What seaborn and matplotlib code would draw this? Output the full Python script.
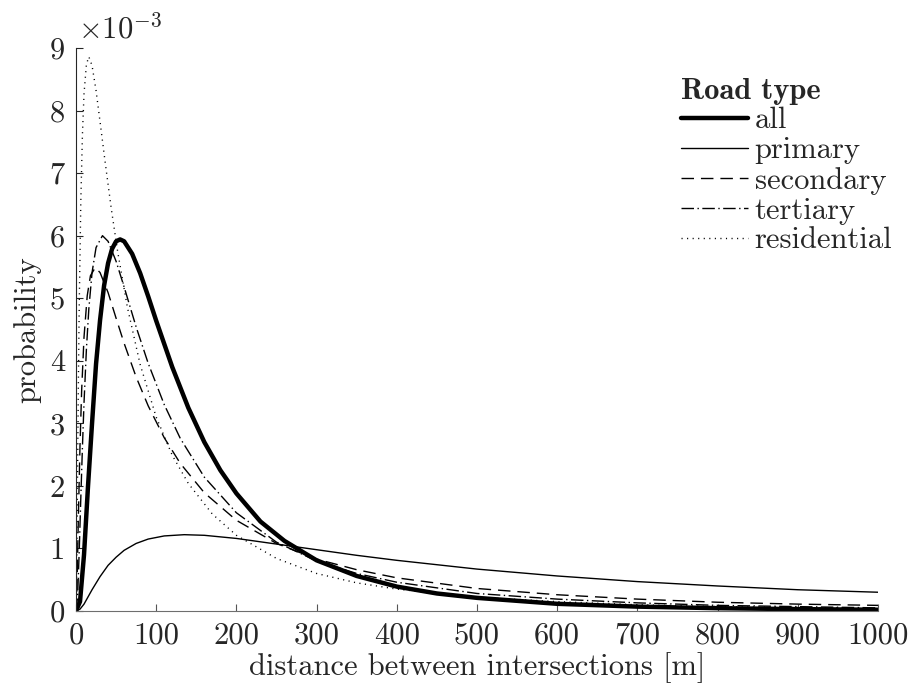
import matplotlib
matplotlib.use("Agg")
import matplotlib.pyplot as plt
import matplotlib.ticker as mticker
import seaborn as sns
import pandas as pd

# Distance distributions per road type (probability, in units of 1e-3)
all_x = [0, 5, 10, 15, 20, 25, 30, 35, 40, 45, 50, 55, 60, 70, 80, 90, 100,
         120, 140, 160, 180, 200, 230, 260, 300, 350, 400, 450, 500, 600, 700,
         800, 900, 1000]
all_y = [0, 0.15, 0.9, 2.0, 3.0, 3.95, 4.65, 5.2, 5.56, 5.79, 5.91, 5.94, 5.91,
         5.71, 5.40, 5.03, 4.64, 3.90, 3.25, 2.70, 2.25, 1.88, 1.43, 1.12, 0.81,
         0.56, 0.39, 0.28, 0.21, 0.115, 0.07, 0.045, 0.03, 0.02]

primary_x = [0, 5, 10, 20, 30, 40, 50, 60, 75, 90, 110, 135, 160, 200, 250,
             300, 350, 400, 500, 600, 700, 800, 900, 1000]
primary_y = [0, 0.03, 0.11, 0.34, 0.55, 0.73, 0.86, 0.97, 1.08, 1.15, 1.20,
             1.22, 1.21, 1.16, 1.07, 0.98, 0.89, 0.81, 0.67, 0.56, 0.47, 0.40,
             0.34, 0.30]

secondary_x = [0, 1, 2, 3, 5, 7, 10, 14, 18, 24, 30, 40, 50, 60, 75, 90, 110,
               130, 160, 200, 250, 300, 350, 400, 500, 600, 700, 800, 900, 1000]
secondary_y = [0, 0.28, 0.88, 1.53, 2.65, 3.51, 4.38, 5.04, 5.36, 5.49, 5.41,
               5.09, 4.68, 4.28, 3.74, 3.28, 2.77, 2.36, 1.89, 1.45, 1.08, 0.83,
               0.66, 0.53, 0.36, 0.26, 0.19, 0.14, 0.11, 0.09]

tertiary_x = [0, 2, 4, 6, 8, 10, 13, 16, 20, 25, 33, 40, 50, 60, 75, 90, 110,
              130, 160, 200, 250, 300, 350, 400, 500, 600, 700, 800, 900, 1000]
tertiary_y = [0, 0.23, 0.95, 1.81, 2.61, 3.33, 4.19, 4.83, 5.41, 5.81, 6.00,
              5.91, 5.59, 5.18, 4.54, 3.96, 3.30, 2.76, 2.14, 1.57, 1.10, 0.80,
              0.60, 0.46, 0.28, 0.19, 0.13, 0.09, 0.07, 0.05]

residential_x = [0, 1, 2, 3, 4, 6, 8, 10, 13, 16, 20, 25, 30, 36, 44, 52, 64,
                 80, 100, 120, 140, 170, 200, 250, 300, 350, 400, 500, 600, 700,
                 800, 900, 1000]
residential_y = [0, 0.80, 2.29, 3.69, 4.85, 6.55, 7.61, 8.27, 8.74, 8.86, 8.72,
                 8.32, 7.82, 7.21, 6.43, 5.74, 4.86, 3.94, 3.10, 2.49, 2.04,
                 1.55, 1.21, 0.84, 0.60, 0.45, 0.35, 0.22, 0.15, 0.10, 0.07,
                 0.055, 0.04]

road_types = ["all", "primary", "secondary", "tertiary", "residential"]
series_x = [all_x, primary_x, secondary_x, tertiary_x, residential_x]
series_y = [all_y, primary_y, secondary_y, tertiary_y, residential_y]

frames = []
for name, xs, ys in zip(road_types, series_x, series_y):
    frames.append(pd.DataFrame({"distance": xs,
                                "probability": [v * 1e-3 for v in ys],
                                "road": name}))
df = pd.concat(frames, ignore_index=True)

sns.set_theme(style="white")
plt.rcParams["font.family"] = ["cmr10", "DejaVu Serif"]
plt.rcParams["mathtext.fontset"] = "cm"
plt.rcParams["axes.unicode_minus"] = False

ink = "#262626"
styles = {
    "all":         dict(lw=3.2, ls="-"),
    "primary":     dict(lw=1.0, ls="-"),
    "secondary":   dict(lw=1.0, ls=(0, (9, 5))),
    "tertiary":    dict(lw=1.0, ls=(0, (9, 2.5, 1, 2.5))),
    "residential": dict(lw=1.0, ls=(0, (0.8, 3.2))),
}

fig = plt.figure(figsize=(9.2, 6.88), dpi=100)
ax = fig.add_axes([76 / 920, 1 - 611 / 688, 802 / 920, 563 / 688])

for name in road_types:
    sub = df[df["road"] == name]
    sns.lineplot(data=sub, x="distance", y="probability", ax=ax, color="black",
                 label=name, linewidth=styles[name]["lw"],
                 linestyle=styles[name]["ls"], estimator=None, sort=False)

ax.set_xlim(0, 1000)
ax.set_ylim(0, 9e-3)
ax.set_xticks(range(0, 1001, 100))
ax.set_yticks([i * 1e-3 for i in range(10)])
ax.yaxis.set_major_formatter(mticker.FuncFormatter(lambda v, p: f"{v * 1e3:.0f}"))

for side in ("top", "right"):
    ax.spines[side].set_visible(False)
ax.spines["left"].set_color(ink)
ax.spines["bottom"].set_color("#6e6e6e")
ax.spines["left"].set_linewidth(0.8)
ax.spines["bottom"].set_linewidth(0.8)
ax.tick_params(direction="in", length=5, width=0.8, colors=ink,
               labelsize=22, pad=8, bottom=True, left=True)
ax.tick_params(axis="x", colors="#555555", labelcolor=ink)

ax.set_xlabel("distance between intersections [m]", fontsize=22, color=ink,
              labelpad=2)
ax.set_ylabel("probability", fontsize=22, color=ink, labelpad=6)

ax.text(0.002, 1.006, r"$\times10^{-3}$", transform=ax.transAxes,
        fontsize=22, color=ink, ha="left", va="bottom")

leg = ax.legend(loc="upper right", bbox_to_anchor=(0.983, 0.905),
                bbox_transform=fig.transFigure, frameon=False, fontsize=22,
                handlelength=2.2, handletextpad=0.2, labelspacing=0.08,
                borderaxespad=0, title="Road type", alignment="left")
leg.get_title().set_fontfamily("cmb10")
leg.get_title().set_fontsize(22)
for t in leg.get_texts():
    t.set_color(ink)

fig.savefig("out.png", dpi=100)
